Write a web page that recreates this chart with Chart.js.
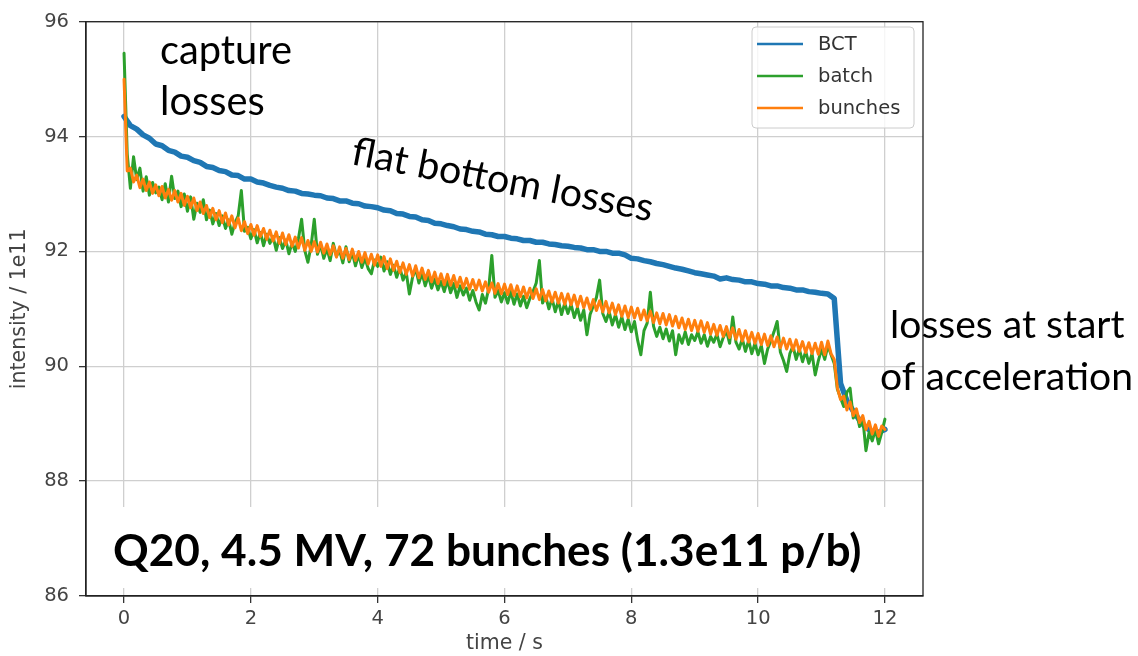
<!DOCTYPE html>
<html>
<head>
<meta charset="utf-8">
<script src="https://cdn.jsdelivr.net/npm/chart.js@4"></script>
<style>
  html, body { margin: 0; padding: 0; background: #fff; }
  canvas { display: block; }
</style>
</head>
<body>
<canvas id="lossChart" width="1138" height="656"></canvas>
<script>
// BCT intensity, sampled every 0.1 s (1e11 protons)
const bctStep = 0.1;
const bctValues = [
  94.35, 94.19, 94.13, 94.03, 93.97, 93.87, 93.84, 93.76, 93.73, 93.66,
  93.64, 93.58, 93.55, 93.48, 93.46, 93.41, 93.39, 93.33, 93.32, 93.26,
  93.26, 93.21, 93.19, 93.15, 93.12, 93.10, 93.06, 93.05, 93.01, 93.00,
  92.98, 92.97, 92.93, 92.92, 92.88, 92.88, 92.84, 92.83, 92.79, 92.78,
  92.76, 92.72, 92.71, 92.66, 92.65, 92.61, 92.60, 92.55, 92.54, 92.49,
  92.48, 92.45, 92.43, 92.39, 92.38, 92.35, 92.34, 92.30, 92.29, 92.26,
  92.26, 92.23, 92.22, 92.19, 92.19, 92.16, 92.16, 92.13, 92.12, 92.10,
  92.09, 92.07, 92.06, 92.03, 92.03, 92.00, 92.00, 91.97, 91.97, 91.94,
  91.88, 91.87, 91.84, 91.82, 91.79, 91.77, 91.74, 91.71, 91.69, 91.66,
  91.63, 91.61, 91.59, 91.57, 91.52, 91.54, 91.51, 91.50, 91.47, 91.47,
  91.44, 91.43, 91.40, 91.40, 91.37, 91.36, 91.33, 91.33, 91.30, 91.29,
  91.27, 91.26, 91.18, 89.70, 89.40, 89.22, 89.06, 88.93, 88.86, 88.85,
  88.90
];

// batch and bunch-by-bunch sums, sampled every 0.05 s
const fineStep = 0.05;
const batchValues = [
  95.45,
  93.70, 93.10, 93.65, 93.25, 93.45, 93.05, 93.30, 92.98, 93.20, 93.02,
  93.12, 92.90, 93.18, 92.86, 93.31, 92.92, 93.05, 92.78, 93.00, 92.70,
  92.95, 92.56, 92.84, 92.68, 92.90, 92.55, 92.72, 92.48, 92.66, 92.45,
  92.62, 92.40, 92.55, 92.30, 92.50, 92.62, 93.06, 92.35, 92.42, 92.22,
  92.38, 92.15, 92.33, 92.10, 92.30, 92.14, 92.26, 92.02, 92.24, 92.05,
  92.20, 91.96, 92.15, 92.00, 92.22, 92.56, 92.02, 91.81, 92.10, 92.56,
  91.95, 92.12, 91.88, 92.05, 91.84, 92.14, 91.92, 92.02, 91.80, 92.08,
  91.82, 91.98, 91.75, 91.95, 91.72, 91.88, 91.70, 91.61, 91.85, 91.74,
  91.90, 91.66, 91.82, 91.60, 91.76, 91.55, 91.72, 91.50, 91.64, 91.26,
  91.55, 91.70, 91.45, 91.62, 91.40, 91.58, 91.36, 91.52, 91.33, 91.48,
  91.30, 91.50, 91.28, 91.44, 91.20, 91.40, 91.24, 91.36, 91.15, 91.32,
  91.12, 90.98, 91.25, 91.10, 91.35, 91.93, 91.20, 91.32, 91.12, 91.28,
  91.10, 91.30, 91.08, 91.26, 91.05, 91.22, 91.02, 91.18, 91.30, 91.45,
  91.84, 91.10, 91.22, 91.00, 91.18, 90.95, 91.14, 90.90, 91.10, 90.92,
  91.08, 90.85, 91.02, 90.80, 90.98, 90.55, 90.90, 91.05, 91.20, 91.50,
  90.92, 90.78, 90.95, 90.72, 90.90, 90.68, 90.86, 90.64, 90.82, 90.60,
  90.78, 90.45, 90.20, 90.62, 90.75, 91.29, 90.70, 90.52, 90.68, 90.48,
  90.65, 90.44, 90.62, 90.20, 90.55, 90.40, 90.60, 90.38, 90.55, 90.45,
  90.60, 90.40, 90.55, 90.35, 90.52, 90.42, 90.56, 90.34, 90.50, 90.62,
  90.40, 90.86, 90.42, 90.30, 90.48, 90.26, 90.45, 90.22, 90.40, 90.20,
  90.36, 90.05, 90.30, 90.44, 90.60, 90.78, 90.25, 90.10, 89.91, 90.22,
  90.35, 90.12, 90.30, 90.08, 90.26, 90.05, 90.22, 89.85, 90.10, 90.30,
  90.12, 90.36, 90.20, 90.05, 89.60, 89.45, 89.30, 89.55, 89.62, 89.10,
  89.20, 88.95, 89.10, 88.53, 88.85, 88.70, 88.90, 88.65, 88.85, 89.08
];
const bunchesValues = [
  95.00,
  93.40, 93.45, 93.21, 93.33, 93.11, 93.26, 93.06, 93.21, 93.01, 93.16,
  92.97, 93.13, 92.93, 93.08, 92.89, 93.06, 92.86, 93.01, 92.80, 92.96,
  92.76, 92.93, 92.71, 92.86, 92.66, 92.80, 92.59, 92.75, 92.55, 92.71,
  92.50, 92.67, 92.46, 92.62, 92.41, 92.58, 92.36, 92.52, 92.31, 92.47,
  92.28, 92.45, 92.26, 92.40, 92.21, 92.37, 92.18, 92.34, 92.14, 92.32,
  92.12, 92.29, 92.09, 92.25, 92.06, 92.24, 92.02, 92.19, 92.00, 92.17,
  91.99, 92.16, 91.97, 92.13, 91.94, 92.10, 91.90, 92.08, 91.88, 92.05,
  91.86, 92.04, 91.84, 92.00, 91.81, 91.98, 91.78, 91.95, 91.76, 91.94,
  91.74, 91.91, 91.70, 91.87, 91.67, 91.83, 91.63, 91.80, 91.60, 91.77,
  91.57, 91.75, 91.54, 91.71, 91.51, 91.67, 91.47, 91.64, 91.44, 91.61,
  91.42, 91.60, 91.41, 91.58, 91.38, 91.55, 91.36, 91.53, 91.34, 91.51,
  91.33, 91.50, 91.31, 91.47, 91.29, 91.45, 91.27, 91.44, 91.26, 91.43,
  91.25, 91.42, 91.23, 91.40, 91.21, 91.38, 91.19, 91.36, 91.18, 91.35,
  91.16, 91.34, 91.14, 91.31, 91.12, 91.29, 91.10, 91.27, 91.08, 91.26,
  91.07, 91.24, 91.04, 91.22, 91.02, 91.19, 90.99, 91.16, 90.97, 91.14,
  90.95, 91.13, 90.93, 91.10, 90.90, 91.07, 90.87, 91.05, 90.85, 91.03,
  90.84, 91.01, 90.81, 90.98, 90.79, 90.96, 90.76, 90.93, 90.74, 90.92,
  90.72, 90.90, 90.70, 90.87, 90.67, 90.84, 90.64, 90.82, 90.62, 90.80,
  90.61, 90.79, 90.59, 90.76, 90.56, 90.73, 90.54, 90.71, 90.52, 90.69,
  90.50, 90.67, 90.47, 90.64, 90.44, 90.62, 90.42, 90.59, 90.40, 90.57,
  90.38, 90.56, 90.36, 90.53, 90.34, 90.51, 90.32, 90.49, 90.30, 90.47,
  90.28, 90.46, 90.26, 90.43, 90.24, 90.41, 90.22, 90.40, 90.21, 90.42,
  90.20, 90.44, 90.22, 90.12, 89.62, 89.42, 89.48, 89.24, 89.38, 89.14,
  89.26, 89.02, 89.14, 88.90, 89.04, 88.82, 88.98, 88.78, 88.96, 88.90
];

const xTicks = [0, 2, 4, 6, 8, 10, 12];
const yTicks = [86, 88, 90, 92, 94, 96];
const seriesNames = ['BCT', 'batch', 'bunches'];
const caption = 'Q20, 4.5 MV, 72 bunches (1.3e11 p/b)';

const toPoints = (values, step) => values.map((v, i) => ({ x: +(i * step).toFixed(2), y: v }));

const tickFont = { family: 'DejaVu Sans', size: 19.5 };
const titleFont = { family: 'DejaVu Sans', size: 20.5 };
const textFamily = 'Lato';

// scale a font so the text spans the given width
function fitFont(ctx, text, weight, family, width) {
  ctx.font = weight + ' 100px ' + family;
  const size = 100 * width / ctx.measureText(text).width;
  return weight + ' ' + size.toFixed(1) + 'px ' + family;
}

const overlay = {
  id: 'overlay',
  afterDraw(chart) {
    const { ctx, chartArea: a } = chart;
    ctx.save();

    // white band for the run description
    ctx.fillStyle = '#fff';
    ctx.fillRect(a.left + 1, 507, a.right - a.left - 2, 81);

    // full frame around the plot
    ctx.strokeStyle = '#222';
    ctx.lineWidth = 1.3;
    ctx.strokeRect(a.left, a.top, a.right - a.left, a.bottom - a.top);

    ctx.fillStyle = '#000';
    ctx.textBaseline = 'alphabetic';
    ctx.textAlign = 'left';

    ctx.font = fitFont(ctx, caption, 'bold', textFamily, 749);
    ctx.fillText(caption, 113, 566);

    ctx.font = fitFont(ctx, 'capture', 'normal', textFamily, 132);
    ctx.fillText('capture', 160, 64);
    ctx.fillText('losses', 160, 115);

    ctx.save();
    ctx.translate(350, 164);
    ctx.rotate(10.8 * Math.PI / 180);
    ctx.font = fitFont(ctx, 'flat bottom losses', 'normal', textFamily, 306);
    ctx.fillText('flat bottom losses', 0, 0);
    ctx.restore();

    ctx.font = fitFont(ctx, 'of acceleration', 'normal', textFamily, 253);
    ctx.fillText('losses at start', 890, 338);
    ctx.fillText('of acceleration', 880, 390);

    // legend box, upper right
    const lx = 752, ly = 27, lw = 162, lh = 101;
    ctx.beginPath();
    ctx.roundRect(lx, ly, lw, lh, 4);
    ctx.fillStyle = 'rgba(255,255,255,0.8)';
    ctx.fill();
    ctx.strokeStyle = '#cccccc';
    ctx.lineWidth = 1;
    ctx.stroke();

    ctx.font = '19.5px DejaVu Sans';
    ctx.textBaseline = 'middle';
    chart.data.datasets.forEach((ds, i) => {
      const y = 44 + i * 32;
      ctx.strokeStyle = ds.borderColor;
      ctx.lineWidth = 2.5;
      ctx.beginPath();
      ctx.moveTo(757, y);
      ctx.lineTo(803, y);
      ctx.stroke();
      ctx.fillStyle = '#333';
      ctx.fillText(ds.label, 818, y + 1);
    });

    ctx.restore();
  }
};

new Chart(document.getElementById('lossChart'), {
  type: 'line',
  data: {
    datasets: [{
      label: seriesNames[0],
      data: toPoints(bctValues, bctStep),
      borderColor: '#1f77b4',
      borderWidth: 5.5,
      order: 3
    }, {
      label: seriesNames[1],
      data: toPoints(batchValues, fineStep),
      borderColor: '#2ca02c',
      borderWidth: 3,
      order: 2
    }, {
      label: seriesNames[2],
      data: toPoints(bunchesValues, fineStep),
      borderColor: '#ff7f0e',
      borderWidth: 3,
      order: 1
    }]
  },
  options: {
    responsive: false,
    animation: false,
    devicePixelRatio: 1,
    layout: { padding: { top: 18, right: 215, left: 0, bottom: 0 } },
    elements: {
      point: { radius: 0 },
      line: { tension: 0, borderJoinStyle: 'round', borderCapStyle: 'round' }
    },
    plugins: {
      legend: { display: false },
      tooltip: { enabled: false }
    },
    scales: {
      x: {
        type: 'linear',
        min: -0.6,
        max: 12.6,
        afterBuildTicks: s => { s.ticks = xTicks.map(v => ({ value: v })); },
        afterFit: s => { s.height = 60; },
        grid: { color: '#cfcfcf', lineWidth: 1.3, tickColor: '#333', tickLength: 7 },
        border: { color: '#222', width: 1.3 },
        ticks: { font: tickFont, color: '#444', padding: 4, maxRotation: 0 },
        title: { display: true, text: 'time / s', font: titleFont, color: '#444', padding: { top: 0, bottom: 0 } }
      },
      y: {
        min: 86,
        max: 96,
        afterBuildTicks: s => { s.ticks = yTicks.map(v => ({ value: v })); },
        afterFit: s => { s.width = 86; },
        grid: { color: '#cfcfcf', lineWidth: 1.3, tickColor: '#333', tickLength: 7 },
        border: { color: '#222', width: 1.3 },
        ticks: { font: tickFont, color: '#444', padding: 10 },
        title: { display: true, text: 'intensity / 1e11', font: titleFont, color: '#444', padding: { top: 7, bottom: 0 } }
      }
    }
  },
  plugins: [overlay]
});
</script>
</body>
</html>
